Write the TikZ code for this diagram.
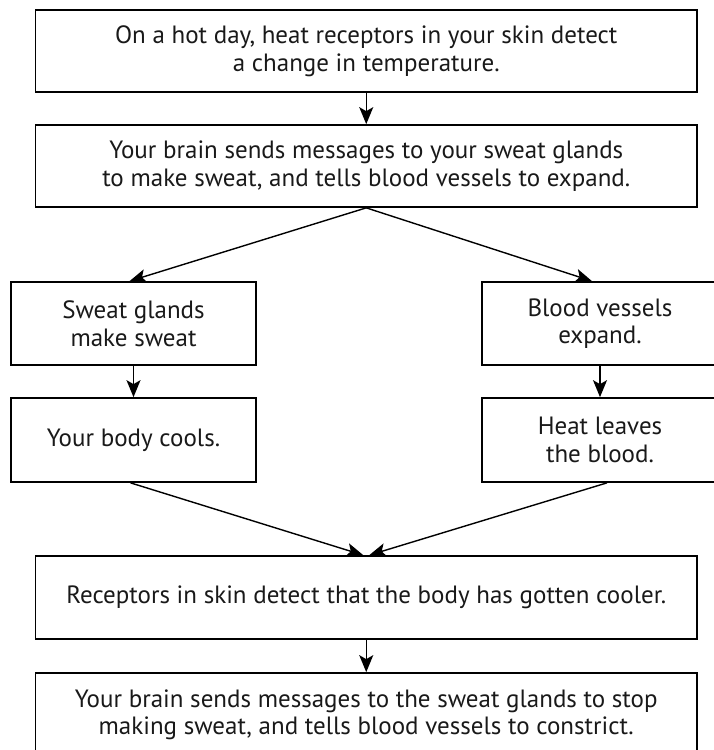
\documentclass[tikz,border=0pt]{standalone}
\usepackage{fontspec}
\setmainfont{PT Sans}
\usetikzlibrary{arrows.meta}
\begin{document}
\begin{tikzpicture}[x=1pt,y=1pt,
  box/.style={draw, line width=1.7pt, inner sep=0pt, align=center,
    text=black!90, font=\fontsize{25}{27.5}\selectfont},
  wide/.style={box, minimum width=661.5pt},
  smallL/.style={box, minimum width=245pt},
  smallR/.style={box, minimum width=236pt},
  arr/.style={line width=1.4pt, -{Stealth[length=17pt,width=14pt,inset=4pt]}}]
\useasboundingbox (0,0) rectangle (713,-750);
\node[wide, minimum height=82pt] (b1) at (366.25,-51) {On a hot day, heat receptors in your skin detect\\a change in temperature.};
\node[wide, minimum height=82pt] (b2) at (366.25,-166) {Your brain sends messages to your sweat glands\\to make sweat, and tells blood vessels to expand.};
\node[smallL, minimum height=83pt] (sg) at (133.5,-323.5) {Sweat glands\\make sweat};
\node[smallR, minimum height=83pt] (bv) at (600,-323.5) {Blood vessels\\expand.};
\node[smallL, minimum height=84pt] (bc) at (133.5,-440) {Your body cools.};
\node[smallR, minimum height=84pt] (hl) at (600,-440) {Heat leaves\\the blood.};
\node[wide, minimum height=83pt] (rc) at (366.25,-597.5) {Receptors in skin detect that the body has gotten cooler.};
\node[wide, minimum height=84pt] (fb) at (366.25,-715) {Your brain sends messages to the sweat glands to stop\\making sweat, and tells blood vessels to constrict.};
\draw[arr] (b1) -- (b2);
\draw[arr] (b2.south) -- ([xshift=-4pt]sg.north);
\draw[arr] (b2.south) -- ([xshift=-8pt]bv.north);
\draw[arr] (sg) -- (bc);
\draw[arr] (bv) -- (hl);
\draw[arr] ([xshift=-3pt]bc.south) -- ([xshift=-3pt]rc.north);
\draw[arr] ([xshift=7pt]hl.south) -- ([xshift=3pt]rc.north);
\draw[arr] (rc) -- (fb);
\end{tikzpicture}
\end{document}
